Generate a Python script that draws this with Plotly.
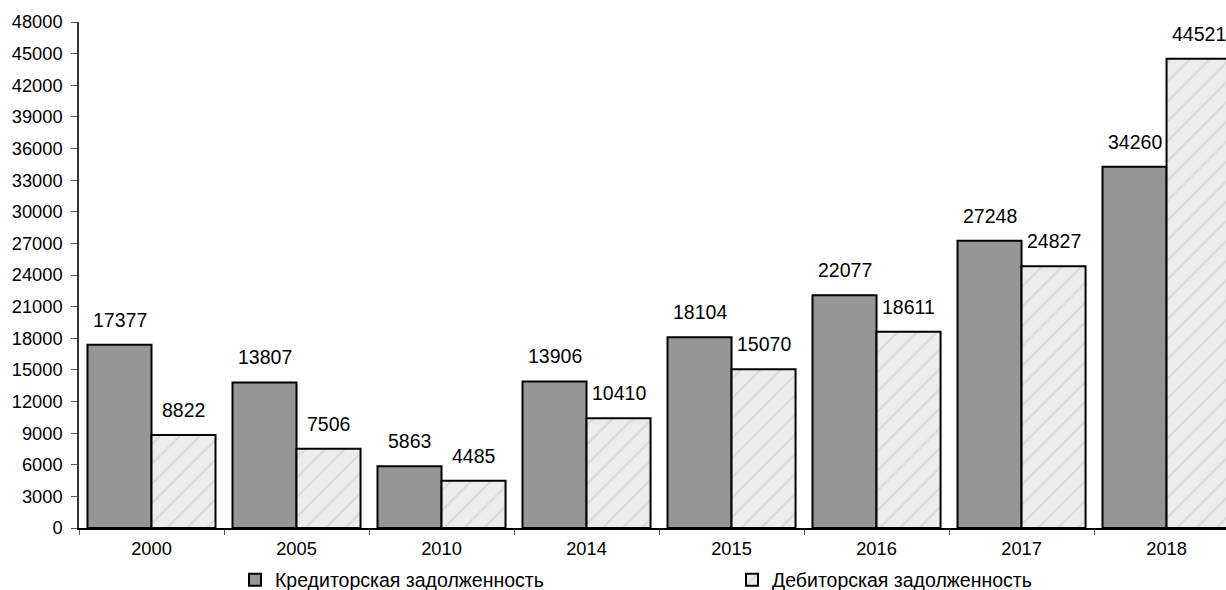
import plotly.graph_objects as go

years = ["2000", "2005", "2010", "2014", "2015", "2016", "2017", "2018"]
kredit = [17377, 13807, 5863, 13906, 18104, 22077, 27248, 34260]
debit = [8822, 7506, 4485, 10410, 15070, 18611, 24827, 44521]
name_k = "Кредиторская задолженность"
name_d = "Дебиторская задолженность"

FONT = "Liberation Sans, Arial, sans-serif"
FS = 18.3
FS_LBL = 19.5

fig = go.Figure()
fig.add_trace(go.Bar(
    x=years, y=kredit, name=name_k, legend="legend",
    marker=dict(color="#969696", line=dict(color="black", width=2)),
))
fig.add_trace(go.Bar(
    x=years, y=debit, name=name_d, legend="legend2",
    marker=dict(color="#e6e6e6", line=dict(color="black", width=2),
                pattern=dict(shape="/", fgcolor="#c6c6c6", bgcolor="#ececec",
                             solidity=0.15, size=14)),
))

for i, v in enumerate(kredit):
    fig.add_annotation(x=i, y=v, text=str(v), showarrow=False, xshift=-32,
                       yanchor="bottom", yshift=12, font=dict(family=FONT, size=FS_LBL, color="black"))
for i, v in enumerate(debit):
    fig.add_annotation(x=i, y=v, text=str(v), showarrow=False, xshift=32,
                       yanchor="bottom", yshift=12, font=dict(family=FONT, size=FS_LBL, color="black"))

leg = dict(orientation="h", xanchor="left", yref="container", y=0.017, yanchor="middle",
           font=dict(family=FONT, size=FS_LBL, color="black"), itemclick=False,
           bgcolor="rgba(0,0,0,0)")
fig.update_layout(
    width=1226, height=590,
    margin=dict(l=79, r=0, t=22, b=62),
    paper_bgcolor="white", plot_bgcolor="white",
    barmode="group", bargap=0.117, bargroupgap=0,
    font=dict(family=FONT, size=FS, color="black"),
    showlegend=True,
    legend=dict(leg, x=0.1360),
    legend2=dict(leg, x=0.5693),
)
fig.update_xaxes(
    type="category", range=[-0.5, 7.41],
    showline=True, linecolor="black", linewidth=1.5,
    ticks="outside", tickson="boundaries", ticklen=5, tickcolor="#555555",
    ticklabelstandoff=3,
    showgrid=False, tickfont=dict(family=FONT, size=FS),
)
fig.update_yaxes(
    range=[0, 48000], dtick=3000, tickformat="d",
    showline=True, linecolor="#333333", linewidth=1.5,
    ticks="outside", ticklen=6, tickcolor="#555555",
    ticklabelstandoff=5,
    showgrid=False, zeroline=False, tickfont=dict(family=FONT, size=FS),
)

post = ("document.body.style.margin='0';document.body.style.padding='0';"
        "document.body.style.overflow='hidden';"
        "var gd=document.getElementById('{plot_id}');"
        "Plotly.relayout(gd,{width:1226,height:590});")
fig.write_html("out.html", post_script=post, config={"displayModeBar": False})
